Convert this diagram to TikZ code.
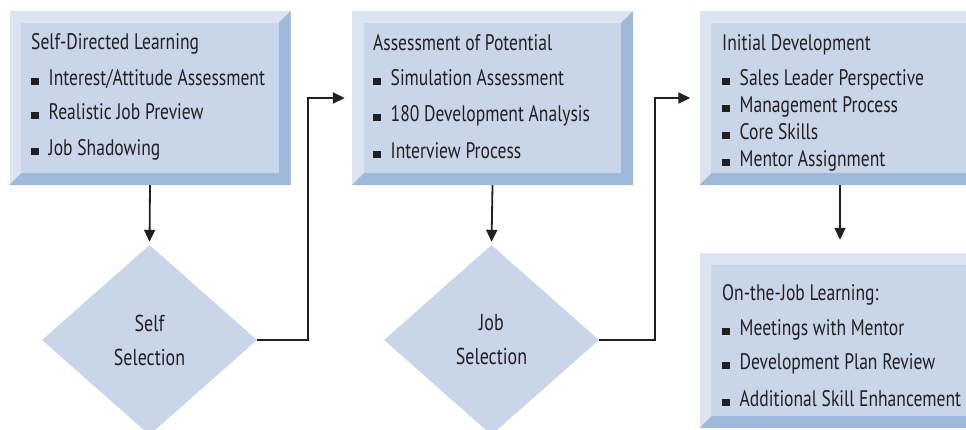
\documentclass[tikz,border=0pt]{standalone}
\usepackage{fontspec}
\setmainfont{PT Sans}[FakeStretch=0.78]
\usepackage{xcolor}
\usetikzlibrary{arrows.meta, shapes.geometric, positioning}

\definecolor{facecol}{HTML}{C9D6E9}
\definecolor{bevlight}{HTML}{DDE4F1}
\definecolor{bevdark}{HTML}{9FB9DB}
\definecolor{inkcol}{HTML}{231F20}

\newcommand{\itm}{\textcolor{inkcol}{\rule{7.5pt}{7.5pt}}\hspace{10pt}}

\tikzset{
  frame/.style={rectangle, fill=bevlight, inner sep=0pt, minimum width=281pt, minimum height=174pt},
  decide/.style={diamond, fill=facecol, inner sep=0pt, minimum width=215pt, minimum height=190pt,
                 align=center, text=inkcol, font=\fontsize{23}{34}\selectfont},
  boxtext/.style={anchor=north west, align=left, inner sep=0pt, text=inkcol},
  flow/.style={draw=inkcol, line width=1.8pt, -{Triangle[length=12pt, width=11pt]}}
}

\begin{document}
\begin{tikzpicture}[x=1pt, y=-1pt]
    \useasboundingbox (0, 0) rectangle (966, 430);
    % bevelled panels
    \node[frame] (sdl) at (150, 98) {};
    \node[frame] (aop) at (492.5, 98) {};
    \node[frame] (idev) at (840, 98) {};
    \node[frame, minimum height=175pt] (ojl) at (840, 340.5) {};
    \foreach \b in {sdl, aop, idev, ojl} {
        \fill[bevdark] (\b.north east) -- (\b.south east) -- (\b.south west)
            -- ([shift={(12pt, 12pt)}]\b.south west) -- ([shift={(-12pt, 12pt)}]\b.south east)
            -- ([shift={(-12pt, -12pt)}]\b.north east) -- cycle;
        \fill[facecol] ([shift={(12pt, -12pt)}]\b.north west) rectangle ([shift={(-12pt, 12pt)}]\b.south east);
    }
    % panel texts
    \node[boxtext, font=\fontsize{22.5}{34}\selectfont] (sdltxt) at (31, 33)
        {Self-Directed Learning\\[2pt] \itm Interest/Attitude Assessment\\ \itm Realistic Job Preview\\[2pt] \itm Job Shadowing};
    \node[boxtext, font=\fontsize{22.5}{36}\selectfont] (aoptxt) at (373, 34)
        {Assessment of Potential\\[-1pt] \itm Simulation Assessment\\ \itm 180 Development Analysis\\[1pt] \itm Interview Process};
    \node[boxtext, font=\fontsize{22.5}{27}\selectfont] (idevtxt) at (722, 34)
        {Initial Development\\[8pt] \itm Sales Leader Perspective\\ \itm Management Process\\ \itm Core Skills\\ \itm Mentor Assignment};
    \node[boxtext, font=\fontsize{22.5}{34}\selectfont] (ojltxt) at (722, 284)
        {On-the-Job Learning:\\[1pt] \itm Meetings with Mentor\\ \itm Development Plan Review\\[3pt] \itm Additional Skill Enhancement};
    % decisions
    \node[decide] (ss) at (149.5, 340) {Self\\Selection};
    \node[decide] (js) at (491.5, 340) {Job\\Selection};
    % connectors
    \draw[flow, shorten >=3pt] (sdl.south) -- (ss.north);
    \draw[flow, shorten >=3pt] (aop.south) -- (js.north);
    \draw[flow, shorten >=13pt] (idev.south) -- (ojl.north);
    \draw[flow, shorten >=7pt] (ss.east) -- ++(51pt, 0) |- (aop.west);
    \draw[flow, shorten >=9pt] (js.east) -- ++(56pt, 0) |- (idev.west);
\end{tikzpicture}
\end{document}
